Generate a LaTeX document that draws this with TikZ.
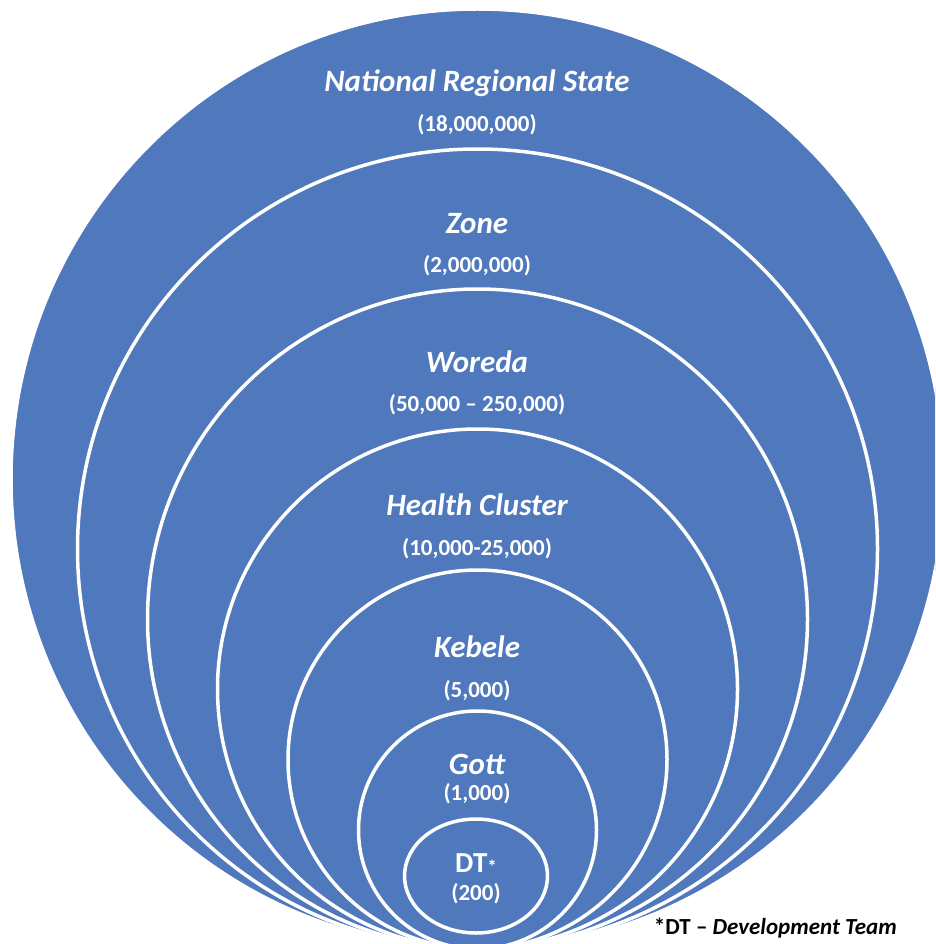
\documentclass[tikz,border=0pt]{standalone}
\usepackage{fontspec}
\setmainfont{Carlito}
\definecolor{ringblue}{RGB}{79,120,189}
\begin{document}
\begin{tikzpicture}[x=1pt,y=-1pt,
  ring/.style={fill=ringblue, draw=white, line width=3.5pt},
  lvlname/.style={text=white, inner sep=0, anchor=base, font=\fontsize{31}{34}\selectfont\bfseries\itshape},
  lvlnum/.style={text=white, inner sep=0, anchor=base, font=\fontsize{23}{26}\selectfont\bfseries},
  footnote/.style={text=black, inner sep=0, anchor=base east, font=\fontsize{23}{26}\selectfont\bfseries}]
\useasboundingbox (0,0) rectangle (935,944);
\clip (0,0) rectangle (935,944);
% rings, largest first
\draw[ring, draw=white] (477.5,479) ellipse [x radius=466.5, y radius=470];
\draw[ring] (477.5,549) circle [radius=400];
\draw[ring] (477.5,619) circle [radius=330];
\draw[ring] (477.5,689) circle [radius=260];
\draw[ring] (477.5,759.5) circle [radius=189.5];
\draw[ring] (477.5,830) circle [radius=119];
\draw[ring] (476,876) ellipse [x radius=71.5, y radius=57];
% labels
\node[lvlname] (nrs) at (477,92) {National Regional State};
\node[lvlnum] (nrsn) at (477,132) {(18,000,000)};
\node[lvlname] (zone) at (477,233) {Zone};
\node[lvlnum] (zonen) at (477,272) {(2,000,000)};
\node[lvlname] (woreda) at (477,372) {Woreda};
\node[lvlnum] (woredan) at (477,411) {(50,000 – 250,000)};
\node[lvlname] (health) at (477,515) {Health Cluster};
\node[lvlnum] (healthn) at (477,555.5) {(10,000-25,000)};
\node[lvlname] (kebele) at (477,657) {Kebele};
\node[lvlnum] (kebelen) at (477,697.5) {(5,000)};
\node[lvlname] (gott) at (477,774.5) {Gott};
\node[lvlnum] (gottn) at (477,800.5) {(1,000)};
\node[lvlname, font=\fontsize{29}{32}\selectfont\bfseries] (dt) at (476,872.5) {DT{\fontsize{19}{21}\selectfont\raisebox{-1pt}{*}}};
\node[lvlnum] (dtn) at (476,900) {(200)};
\node[footnote] (note) at (897,934) {*DT – \textit{Development Team}};
\end{tikzpicture}
\end{document}
